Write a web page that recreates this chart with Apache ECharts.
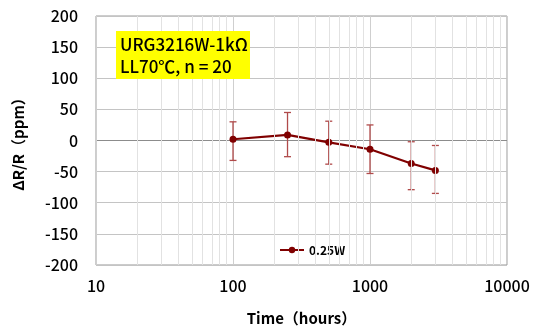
<!DOCTYPE html>
<html>
<head>
<meta charset="utf-8">
<script src="https://cdn.jsdelivr.net/npm/echarts@6/dist/echarts.min.js"></script>
<style>
html,body{margin:0;padding:0;background:#fff;}
#chart{width:534px;height:331px;}
</style>
</head>
<body>
<div id="chart"></div>
<script>
var times = [100, 250, 500, 1000, 2000, 3000];
var means = [2, 9, -3, -14, -37, -48];
var upper = [30, 45, 31, 25, -2, -8];
var lower = [-32, -26, -38, -53, -79, -85];
var yTicks = [-200, -150, -100, -50, 0, 50, 100, 150, 200];
var xTicks = [10, 100, 1000, 10000];
var minorX = [20,30,40,50,60,70,80,90,200,300,400,500,600,700,800,900,2000,3000,4000,5000,6000,7000,8000,9000];
var seriesName = '0.25W';
var noteLines = ['URG3216W-1kΩ', 'LL70℃, n = 20'];

var FONT = '"Noto Sans CJK JP", "Noto Sans", sans-serif';
var chart = echarts.init(document.getElementById('chart'), null, {renderer: 'canvas'});

var lineData = times.map(function (t, i) { return [t, means[i]]; });
var errData = times.map(function (t, i) { return [t, lower[i], upper[i]]; });
var splitColors = yTicks.map(function (v) { return v === 0 ? '#8c8c8c' : '#c4c4c4'; });

var option = {
  animation: false,
  backgroundColor: '#fff',
  grid: {left: 96, right: 27, top: 16, bottom: 63, show: true, borderColor: '#9a9a9a', borderWidth: 1},
  xAxis: {
    type: 'log', logBase: 10, min: xTicks[0], max: xTicks[xTicks.length - 1],
    name: 'Time（hours）', nameLocation: 'middle', nameGap: 46,
    nameTextStyle: {fontFamily: FONT, fontSize: 15, color: '#000', fontWeight: 'bold'},
    axisLine: {show: false, onZero: false},
    axisTick: {show: false},
    axisLabel: {fontFamily: FONT, fontSize: 16, color: '#000', margin: 13, fontWeight: 500,
      formatter: function (v) { return String(Math.round(v)); }},
    splitLine: {show: true, lineStyle: {color: '#cfcfcf', width: 1}}
  },
  yAxis: {
    type: 'value', min: yTicks[0], max: yTicks[yTicks.length - 1], interval: 50,
    name: 'ΔR/R（ppm）', nameLocation: 'middle', nameGap: 70, nameRotate: 90,
    nameTextStyle: {fontFamily: FONT, fontSize: 15, color: '#000', fontWeight: 'bold'},
    axisLine: {show: false},
    axisTick: {show: false},
    axisLabel: {fontFamily: FONT, fontSize: 16, color: '#000', margin: 18, fontWeight: 500},
    splitLine: {show: true, lineStyle: {color: splitColors, width: 1}}
  },
  legend: {
    left: 274, top: 239, itemWidth: 24, itemHeight: 8,
    textStyle: {fontFamily: FONT, fontSize: 12, color: '#000', fontWeight: 'bold'},
    data: [seriesName]
  },
  graphic: [{
    type: 'group', left: 116, top: 31, z: 100,
    children: [
      {type: 'rect', z: 100, shape: {x: 0, y: 0, width: 134, height: 48}, style: {fill: '#ffff00'}},
      {type: 'text', z: 101, left: 4, top: 3, style: {text: noteLines.join('\n'), font: '500 17px ' + FONT, fill: '#000', lineHeight: 22}}
    ]
  }],
  series: [
    {
      name: 'minor', type: 'line', data: [], silent: true,
      markLine: {
        silent: true, symbol: ['none', 'none'], label: {show: false},
        lineStyle: {color: '#e2e2e2', width: 1, type: 'solid'},
        data: minorX.map(function (v) { return {xAxis: v}; })
      }
    },
    {
      name: 'err', type: 'custom', data: errData, z: 3,
      renderItem: function (params, api) {
        var x = api.value(0);
        var lo = api.coord([x, api.value(1)]);
        var hi = api.coord([x, api.value(2)]);
        var w = 3.5;
        var st = {stroke: '#b04a4a', lineWidth: 1.3};
        return {type: 'group', children: [
          {type: 'line', shape: {x1: lo[0], y1: lo[1], x2: hi[0], y2: hi[1]}, style: st},
          {type: 'line', shape: {x1: lo[0] - w, y1: lo[1], x2: lo[0] + w, y2: lo[1]}, style: st},
          {type: 'line', shape: {x1: hi[0] - w, y1: hi[1], x2: hi[0] + w, y2: hi[1]}, style: st}
        ]};
      }
    },
    {
      name: seriesName, type: 'line', data: lineData, z: 4,
      symbol: 'circle', symbolSize: 7,
      lineStyle: {color: '#800000', width: 2.2},
      itemStyle: {color: '#800000'}
    }
  ]
};
chart.setOption(option);
</script>
</body>
</html>
